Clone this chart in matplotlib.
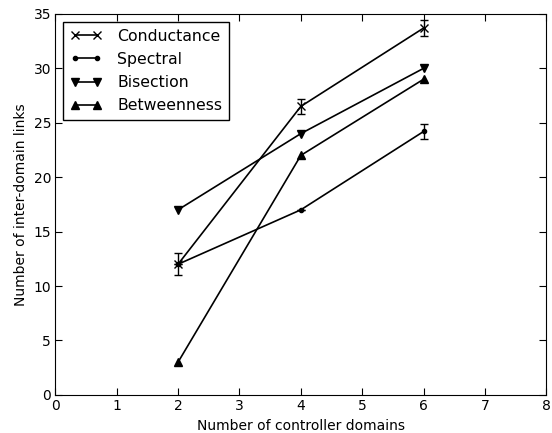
import matplotlib
matplotlib.use("Agg")
import matplotlib.pyplot as plt

domains = [2, 4, 6]
conductance = [12.0, 26.5, 33.7]
conductance_err = [1.0, 0.7, 0.7]
spectral = [12.0, 17.0, 24.2]
spectral_err = [0.0, 0.0, 0.7]
bisection = [17.0, 24.0, 30.0]
betweenness = [3.0, 22.0, 29.0]

fig = plt.figure(figsize=(5.52, 4.33), dpi=100)
ax = fig.add_axes([0.1, 0.088, 0.89, 0.88])

ax.plot(domains, conductance, color='k', marker='x', ms=6, mew=1, lw=1.2, label='Conductance')
ax.errorbar(domains, conductance, yerr=conductance_err, fmt='none', ecolor='k',
            elinewidth=1, capsize=3)
ax.plot(domains, spectral, color='k', marker='.', ms=6, lw=1.2, label='Spectral')
ax.errorbar(domains, spectral, yerr=spectral_err, fmt='none', ecolor='k',
            elinewidth=1, capsize=3)
ax.plot(domains, bisection, color='k', marker='v', ms=6, lw=1.2, label='Bisection')
ax.plot(domains, betweenness, color='k', marker='^', ms=6, lw=1.2, label='Betweenness')

ax.set_xlim(0, 8)
ax.set_ylim(0, 35)
ax.set_xticks(range(0, 9))
ax.set_yticks(range(0, 36, 5))
ax.tick_params(direction='in', top=True, right=True, labelsize=10, length=5, pad=3)
ax.set_xlabel('Number of controller domains', fontsize=10, labelpad=4)
ax.set_ylabel('Number of inter-domain links', fontsize=10)

leg = ax.legend(loc='upper left', fontsize=11.3, fancybox=False, numpoints=2,
                handlelength=2.0, borderpad=0.45, labelspacing=0.52, framealpha=1,
                handletextpad=1.0, borderaxespad=0.5)
leg.get_frame().set_edgecolor('k')
leg.get_frame().set_linewidth(1)

fig.savefig('out.png', dpi=100)
